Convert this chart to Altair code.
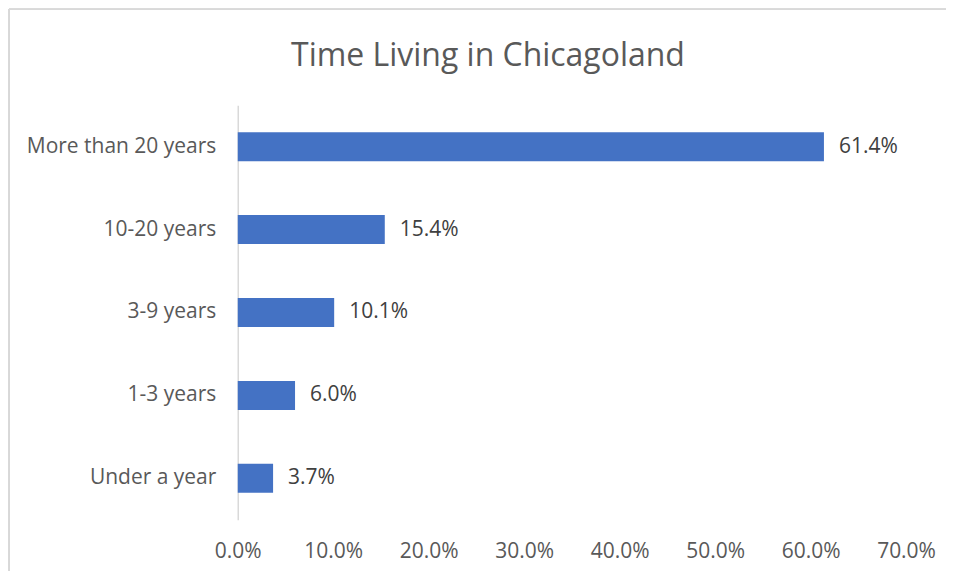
import altair as alt
import pandas as pd

categories = ["More than 20 years", "10-20 years", "3-9 years", "1-3 years", "Under a year"]
values = [0.614, 0.154, 0.101, 0.060, 0.037]
x_ticks = [0.0, 0.1, 0.2, 0.3, 0.4, 0.5, 0.6, 0.7]

df = pd.DataFrame({"category": categories, "value": values})

FONT = "Open Sans"
FS = 21
W, H = 669, 415

y_enc = alt.Y("category:N", sort=categories, title=None,
              scale=alt.Scale(paddingInner=0.65, paddingOuter=0.325),
              axis=alt.Axis(domain=True, domainColor="#d9d9d9", domainWidth=1.5,
                            ticks=False, labelPadding=22, labelFontSize=FS,
                            labelLimit=400,
                            labelColor="#595959", labelFont=FONT))

bars = alt.Chart(df).mark_bar(color="#4472C4").encode(
    x=alt.X("value:Q", title=None,
            scale=alt.Scale(domain=[0, 0.7], nice=False),
            axis=alt.Axis(values=x_ticks, format=".1%", grid=False, domain=False,
                          ticks=False, labelPadding=21, labelFontSize=FS,
                          labelFlush=False, labelOverlap=False,
                          labelColor="#595959", labelFont=FONT)),
    y=y_enc,
)

labels = alt.Chart(df).mark_text(align="left", baseline="middle", dx=15,
                                 fontSize=FS, color="#404040", font=FONT).encode(
    x="value:Q",
    y=alt.Y("category:N", sort=categories),
    text=alt.Text("value:Q", format=".1%"),
)

border_left = alt.Chart(df).mark_rule(color="#d9d9d9", strokeWidth=1.5).encode(
    x=alt.value(-229), y=alt.value(-96), y2=alt.value(H + 60))
border_top = alt.Chart(df).mark_rule(color="#d9d9d9", strokeWidth=1.5).encode(
    x=alt.value(-229), x2=alt.value(W + 60), y=alt.value(-96))

chart = alt.layer(border_left, border_top, bars, labels).properties(
    width=W, height=H,
    background="white",
    title=alt.TitleParams("Time Living in Chicagoland", fontSize=32, font=FONT,
                          color="#595959", fontWeight="normal", anchor="middle",
                          frame="group", baseline="alphabetic",
                          dx=-84, offset=-90),
    autosize=alt.AutoSizeParams(type="none"),
    padding={"left": 230, "top": 97, "right": 40, "bottom": 51},
).configure_view(strokeWidth=0, stroke="transparent")

chart.save("out.html", embed_options={"renderer": "svg", "actions": False})
